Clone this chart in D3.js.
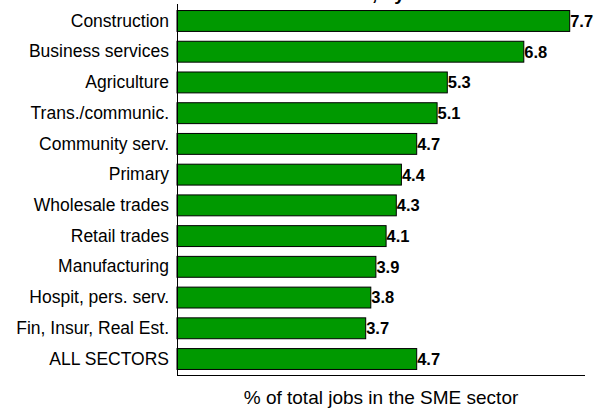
<!DOCTYPE html>
<html>
<head>
<meta charset="utf-8">
<script src="https://cdn.jsdelivr.net/npm/d3@7"></script>
<style>
  html, body { margin: 0; padding: 0; background: #fff; }
  svg { display: block; font-family: "Liberation Sans", Arial, sans-serif; }
</style>
</head>
<body>
<svg id="chart" width="599" height="408"></svg>
<script>
// Share of SME jobs by sector
const sectors = [
  "Construction", "Business services", "Agriculture", "Trans./communic.",
  "Community serv.", "Primary", "Wholesale trades", "Retail trades",
  "Manufacturing", "Hospit, pers. serv.", "Fin, Insur, Real Est.", "ALL SECTORS"
];
const shares = [7.7, 6.8, 5.3, 5.1, 4.7, 4.4, 4.3, 4.1, 3.9, 3.8, 3.7, 4.7];
const xDomain = [0, 8];
const titleText = "Job creation, by sector";
const axisTitle = "% of total jobs in the SME sector";

const svg = d3.select("#chart");
const plot = { left: 177, right: 585, top: 4, bottom: 375 };

const x = d3.scaleLinear().domain(xDomain).range([plot.left, plot.right]);
const y = d3.scaleBand().domain(sectors).range([plot.top + 1, plot.bottom])
  .paddingInner(0.32).paddingOuter(0.18);

// Title sits above the plot; only its descenders reach the canvas
const title = svg.append("text")
  .attr("y", 0)
  .attr("font-size", 19)
  .attr("font-weight", "bold")
  .attr("fill", "#000")
  .text(titleText);
const commaIdx = titleText.indexOf(",");
title.attr("x", 372 - title.node().getSubStringLength(0, commaIdx));

const data = sectors.map((s, i) => ({ sector: s, value: shares[i] }));

// Bars
svg.append("g").selectAll("rect")
  .data(data)
  .join("rect")
  .attr("x", x(0))
  .attr("y", d => y(d.sector))
  .attr("width", d => x(d.value) - x(0))
  .attr("height", y.bandwidth())
  .attr("fill", "#009900")
  .attr("stroke", "#000")
  .attr("stroke-width", 1);

// Value labels at the end of each bar
svg.append("g").selectAll("text")
  .data(data)
  .join("text")
  .attr("x", d => x(d.value) + 0.5)
  .attr("y", d => y(d.sector) + y.bandwidth() / 2)
  .attr("dy", "0.36em")
  .attr("font-size", 16.5)
  .attr("font-weight", "bold")
  .attr("fill", "#000")
  .text(d => d.value.toFixed(1));

// Category axis (no ticks)
const yAxis = svg.append("g")
  .attr("transform", `translate(${plot.left},0)`)
  .call(d3.axisLeft(y).tickSize(0).tickPadding(8));
yAxis.select(".domain").remove();
yAxis.selectAll("text")
  .attr("font-size", 17.5)
  .attr("font-family", "'Liberation Sans', Arial, sans-serif")
  .attr("fill", "#000");

// Axis lines
svg.append("line")
  .attr("x1", plot.left + 0.5).attr("x2", plot.left + 0.5)
  .attr("y1", plot.top).attr("y2", plot.bottom)
  .attr("stroke", "#000").attr("stroke-width", 1);
svg.append("line")
  .attr("x1", plot.left).attr("x2", plot.right)
  .attr("y1", plot.bottom + 0.5).attr("y2", plot.bottom + 0.5)
  .attr("stroke", "#000").attr("stroke-width", 1);

// Value axis title
svg.append("text")
  .attr("x", (plot.left + plot.right) / 2)
  .attr("y", 404)
  .attr("text-anchor", "middle")
  .attr("font-size", 19)
  .attr("fill", "#000")
  .text(axisTitle);
</script>
</body>
</html>
